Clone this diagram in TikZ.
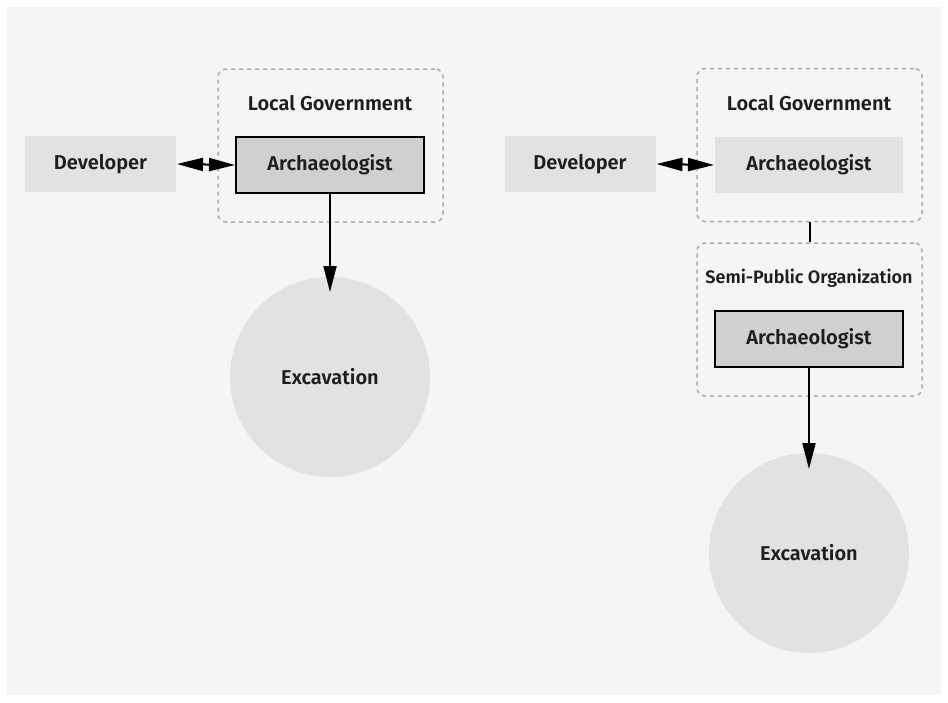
\documentclass[tikz,border=0pt]{standalone}
\usepackage{fontspec}
\setmainfont{Fira Sans}[BoldFont={* SemiBold}]
\usetikzlibrary{arrows.meta, positioning}
\definecolor{canvas}{HTML}{F5F5F5}
\definecolor{plainfill}{HTML}{E2E2E2}
\definecolor{keyfill}{HTML}{D0D0D0}
\definecolor{dashgrey}{HTML}{AAAAAA}
\definecolor{inkgrey}{HTML}{1E1E1E}
\newcommand{\BoxH}{56pt}
\newcommand{\ArchW}{188pt}
\newcommand{\DevW}{151pt}
\tikzset{PlainBox/.style={
    inner sep=0pt,
    minimum height=\BoxH,
    fill=plainfill,
    text=inkgrey,
    font=\bfseries\fontsize{20}{24}\selectfont,
    align=center
    }
}
\tikzset{KeyBox/.style={
    PlainBox,
    draw=black,
    line width=2pt,
    fill=keyfill
    }
}
\tikzset{OrgBox/.style={
    draw=dashgrey,
    line width=1.5pt,
    dash pattern=on 4pt off 4pt,
    rounded corners=8pt,
    minimum width=225pt,
    minimum height=153pt,
    inner sep=0pt
    }
}
\tikzset{OrgLabel/.style={
    text=inkgrey,
    font=\bfseries\fontsize{20}{24}\selectfont
    }
}
\tikzset{Dig/.style={
    circle,
    fill=plainfill,
    minimum size=200pt,
    inner sep=0pt,
    text=inkgrey,
    font=\bfseries\fontsize{20}{24}\selectfont
    }
}

\begin{document}
\begin{tikzpicture}[x=1pt, y=-1pt, line width=2pt,
    link/.style={-{Triangle[length=26pt, width=13pt]}},
    twoway/.style={{Triangle[length=26pt, width=13pt]}-{Triangle[length=26pt, width=13pt]}}]
    \useasboundingbox (0,0) rectangle (948,702);
    \fill[canvas] (7,7) rectangle (941,695);

    % left: council archaeologist does the dig
    \node (govL) [OrgBox] at (330.5,145.5) {};
    \node (govLtxt) [OrgLabel] at (330,103) {Local Government};
    \node (devL) [PlainBox, minimum width=\DevW] at (100.5,164) {Developer};
    \node (archL) [KeyBox, minimum width=\ArchW] at (330,165) {Archaeologist};
    \node (digL) [Dig] at (330,377) {Excavation};
        \draw [twoway] (devL.east) -- (archL.west);
        \draw [link, shorten >=-16pt] (archL.south) -- (digL.north);

    % right: semi-public organisation does the dig
    \node (govR) [OrgBox] at (809.5,145) {};
    \node (govRtxt) [OrgLabel] at (809,103) {Local Government};
    \node (semi) [OrgBox] at (809.5,319.5) {};
    \node (semitxt) [OrgLabel, font=\bfseries\fontsize{18}{22}\selectfont] at (809,278) {Semi-Public Organization};
    \node (devR) [PlainBox, minimum width=\DevW] at (580,164) {Developer};
    \node (archR) [PlainBox, minimum width=\ArchW] at (809,165) {Archaeologist};
    \node (archS) [KeyBox, minimum width=\ArchW] at (809,339) {Archaeologist};
    \node (digR) [Dig] at (809,553) {Excavation};
        \draw [twoway] (devR.east) -- (archR.west);
        \draw (govR.south) -- (semi.north);
        \draw [link, shorten >=-17pt] (archS.south) -- (digR.north);
\end{tikzpicture}
\end{document}
